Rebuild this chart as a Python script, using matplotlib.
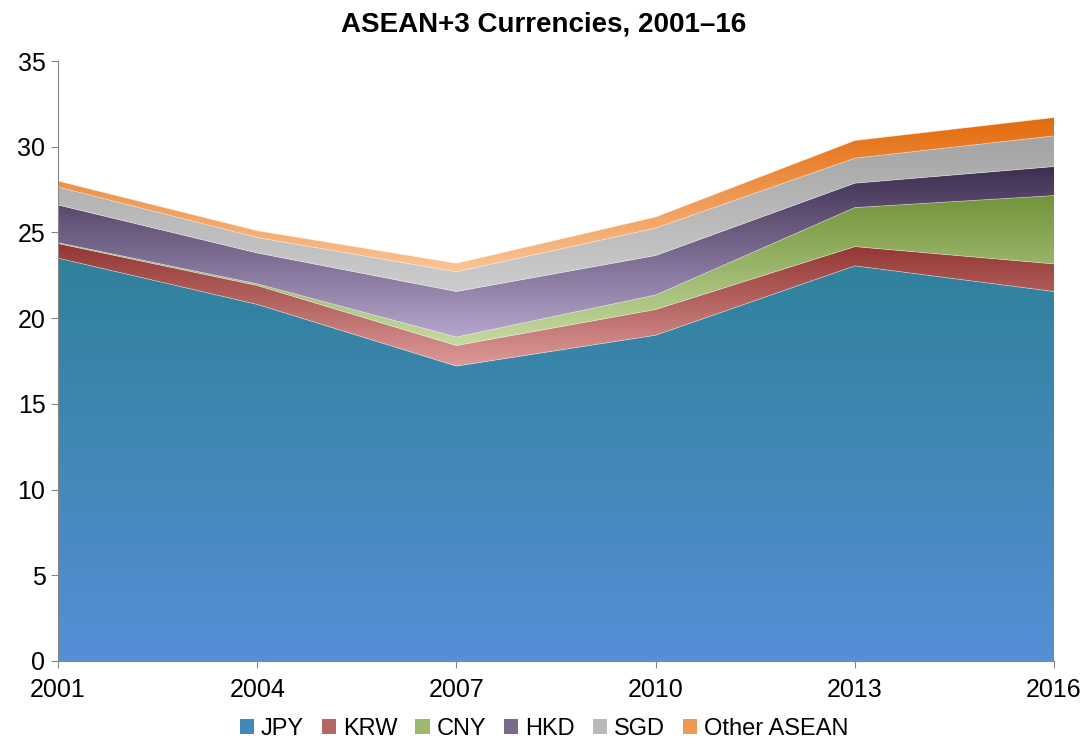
import numpy as np
import matplotlib.pyplot as plt
import matplotlib.colors as mcolors
from matplotlib.patches import Patch

plt.rcParams['font.family'] = ['Liberation Sans', 'DejaVu Sans']

# Данные
years = [2001, 2004, 2007, 2010, 2013, 2016]
jpy = [23.5, 20.8, 17.2, 19.0, 23.05, 21.55]
krw = [0.85, 1.1, 1.2, 1.5, 1.12, 1.61]
cny = [0.05, 0.1, 0.5, 0.85, 2.28, 3.99]
hkd = [2.2, 1.8, 2.65, 2.3, 1.42, 1.69]
sgd = [1.05, 0.9, 1.15, 1.6, 1.46, 1.79]
other = [0.35, 0.4, 0.5, 0.65, 1.03, 1.07]
labels = ['JPY', 'KRW', 'CNY', 'HKD', 'SGD', 'Other ASEAN']

# Градиенты: (верх, низ)
grads = [('#2f819b', '#558fd6'),
         ('#913431', '#dc9a98'),
         ('#73943a', '#c6dba1'),
         ('#3d2e50', '#b6a5cc'),
         ('#a4a4a4', '#cdcdcd'),
         ('#e36a0a', '#fbc597')]

fig = plt.figure(figsize=(10.88, 7.44), dpi=100)
ax = fig.add_axes([0.0533, 0.1116, 0.9155, 0.8064])

x = np.array(years, dtype=float)
series = [jpy, krw, cny, hkd, sgd, other]
bottom = np.zeros(len(years))
for vals, (c_top, c_bot), lab in zip(series, grads, labels):
    top = bottom + np.array(vals)
    poly = ax.fill_between(x, bottom, top, color='none', lw=0)
    ymin, ymax = bottom.min(), top.max()
    cmap = mcolors.LinearSegmentedColormap.from_list(lab, [c_bot, c_top])
    grad = np.linspace(0, 1, 256).reshape(-1, 1)
    im = ax.imshow(grad, cmap=cmap, aspect='auto', origin='lower',
                   extent=[x[0], x[-1], ymin, ymax], interpolation='bicubic')
    path = poly.get_paths()[0]
    im.set_clip_path(path, transform=ax.transData)
    ax.plot(x, top, color='white', lw=0.5, alpha=0.5)
    bottom = top

ax.set_xlim(2001, 2016)
ax.set_ylim(0, 35)
ax.set_xticks(years)
ax.set_yticks(range(0, 36, 5))
ax.tick_params(labelsize=18, color='#868686', length=5, direction='out')
ax.tick_params(axis='x', pad=7)
ax.tick_params(axis='y', pad=4)
for s in ['top', 'right']:
    ax.spines[s].set_visible(False)
for s in ['left', 'bottom']:
    ax.spines[s].set_color('#868686')

fig.text(0.5, 1 - 24 / 744, 'ASEAN+3 Currencies, 2001–16', fontsize=20,
         fontweight='bold', ha='center', va='center')

handles = [Patch(facecolor=mcolors.to_hex(np.mean([mcolors.to_rgb(a), mcolors.to_rgb(b)], axis=0)),
                 label=lab) for (a, b), lab in zip(grads, labels)]
fig.legend(handles=handles, loc='center', bbox_to_anchor=(0.5, 1 - 729 / 744), ncol=6,
           frameon=False, fontsize=17, handlelength=0.6, handleheight=0.6,
           handletextpad=0.3, columnspacing=0.75, borderpad=0.2)

plt.savefig('out.png', dpi=100)
